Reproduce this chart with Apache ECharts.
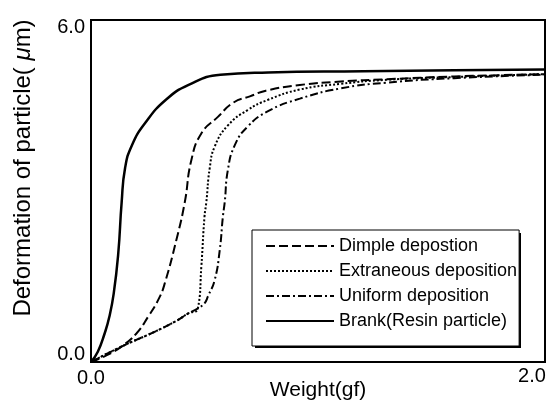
<!DOCTYPE html>
<html>
<head>
<meta charset="utf-8">
<script src="https://cdn.jsdelivr.net/npm/echarts@6/dist/echarts.min.js"></script>
<style>
html, body { margin: 0; padding: 0; background: #fff; }
#chart { width: 559px; height: 403px; }
</style>
</head>
<body>
<div id="chart"></div>
<script>
// values, weight in gf, deformation in um
var seriesNames = ['Dimple depostion', 'Extraneous deposition', 'Uniform deposition', 'Brank(Resin particle)'];

var dimpleX = [0, 0.07, 0.134, 0.2, 0.251, 0.3, 0.325, 0.376, 0.413, 0.442, 0.486, 0.559, 0.627, 0.70, 0.77, 0.92, 1.1, 1.3, 1.6, 2.0];
var dimpleY = [0, 0.12, 0.27, 0.5, 0.79, 1.12, 1.38, 2.14, 2.8, 3.54, 4.01, 4.3, 4.55, 4.66, 4.76, 4.86, 4.92, 4.96, 5.01, 5.05];

var extraX = [0, 0.134, 0.28, 0.38, 0.427, 0.471, 0.486, 0.50, 0.508, 0.523, 0.545, 0.603, 0.69, 0.78, 0.92, 1.1, 1.3, 1.6, 2.0];
var extraY = [0, 0.27, 0.53, 0.73, 0.85, 0.94, 1.67, 2.55, 2.8, 3.4, 3.78, 4.15, 4.42, 4.6, 4.78, 4.88, 4.95, 5.0, 5.05];

var uniformX = [0, 0.134, 0.28, 0.38, 0.427, 0.471, 0.50, 0.515, 0.545, 0.567, 0.581, 0.589, 0.603, 0.633, 0.69, 0.78, 0.92, 1.1, 1.3, 1.6, 2.0];
var uniformY = [0, 0.27, 0.53, 0.73, 0.85, 0.94, 1.03, 1.15, 1.44, 1.96, 2.55, 2.8, 3.37, 3.8, 4.13, 4.4, 4.62, 4.8, 4.9, 4.98, 5.04];

var brankX = [0, 0.03, 0.06, 0.08, 0.10, 0.12, 0.135, 0.15, 0.18, 0.24, 0.33, 0.43, 0.57, 0.78, 1.2, 1.6, 2.0];
var brankY = [0, 0.18, 0.5, 0.78, 1.2, 1.9, 2.8, 3.4, 3.8, 4.2, 4.6, 4.86, 5.04, 5.08, 5.1, 5.12, 5.13];

var xTicks = ['0.0', '2.0'];
var yTicks = ['0.0', '6.0'];

function pairs(xs, ys) {
    var out = [];
    for (var i = 0; i < xs.length; i++) {
        out.push([xs[i], ys[i]]);
    }
    return out;
}

var chart = echarts.init(document.getElementById('chart'));

function makeLine(name, xs, ys, type, width) {
    return {
        name: name,
        type: 'line',
        data: pairs(xs, ys),
        symbol: 'none',
        smooth: 0.5,
        lineStyle: { color: '#000', width: width, type: type },
        itemStyle: { color: '#000' },
        z: 3
    };
}

var option = {
    animation: false,
    backgroundColor: '#fff',
    textStyle: { fontFamily: 'Liberation Sans, Arial, sans-serif', color: '#000' },
    grid: {
        left: 91, right: 14, top: 20, bottom: 41,
        outerBoundsMode: 'none',
        containLabel: false,
        show: true, borderColor: '#000', borderWidth: 2
    },
    // drop shadow of the legend box
    graphic: [{
        type: 'rect',
        z: 4,
        shape: { x: 255, y: 233, width: 266, height: 115 },
        style: { fill: '#000' }
    }],
    legend: {
        orient: 'vertical',
        left: 252, top: 230,
        z: 5,
        itemWidth: 68, itemHeight: 14, itemGap: 7,
        padding: [7, 2, 16, 13],
        backgroundColor: '#fff',
        borderColor: '#000', borderWidth: 1,
        itemStyle: { color: 'rgba(0,0,0,0)', borderColor: 'rgba(0,0,0,0)', borderWidth: 0 },
        textStyle: { fontSize: 18, color: '#000', fontFamily: 'Liberation Sans, Arial, sans-serif' },
        data: seriesNames
    },
    xAxis: {
        type: 'value', min: 0, max: 2, interval: 2,
        name: 'Weight(gf)', nameLocation: 'middle', nameGap: 18,
        nameMoveOverlap: false,
        nameTextStyle: { fontSize: 21, color: '#000' },
        axisLine: { lineStyle: { color: '#000', width: 2 } },
        axisTick: { show: false },
        splitLine: { show: false },
        axisLabel: {
            margin: 4, fontSize: 20, color: '#000',
            formatter: function (v) {
                var i = Math.round(v / 2);
                return i === 0 ? '{a|' + xTicks[0] + '}' : '{b|' + xTicks[1] + '}';
            },
            rich: {
                a: { fontSize: 20, padding: [2, 0, 0, 0] },
                b: { fontSize: 20, padding: [0, 26, 0, 0] }
            }
        }
    },
    yAxis: {
        type: 'value', min: 0, max: 6, interval: 6,
        name: 'Deformation of particle( {i|\u03bc}m)', nameLocation: 'middle', nameGap: 56,
        nameMoveOverlap: false,
        nameTextStyle: {
            fontSize: 24, color: '#000', padding: [0, 0, 0, 46],
            rich: { i: { fontSize: 24, fontStyle: 'italic', color: '#000' } }
        },
        axisLine: { lineStyle: { color: '#000', width: 2 } },
        axisTick: { show: false },
        splitLine: { show: false },
        axisLabel: {
            margin: 6, fontSize: 20, color: '#000',
            formatter: function (v) {
                var i = Math.round(v / 6);
                return i === 0 ? '{a|' + yTicks[0] + '}' : '{b|' + yTicks[1] + '}';
            },
            rich: {
                a: { fontSize: 20, padding: [0, 0, 15, 0] },
                b: { fontSize: 20, padding: [14, 0, 0, 0] }
            }
        }
    },
    series: [
        makeLine(seriesNames[0], dimpleX, dimpleY, [9, 4], 2),
        makeLine(seriesNames[1], extraX, extraY, [2, 2], 2),
        makeLine(seriesNames[2], uniformX, uniformY, [8, 3, 2, 3], 2),
        makeLine(seriesNames[3], brankX, brankY, 'solid', 2.5)
    ]
};

chart.setOption(option);
</script>
</body>
</html>
